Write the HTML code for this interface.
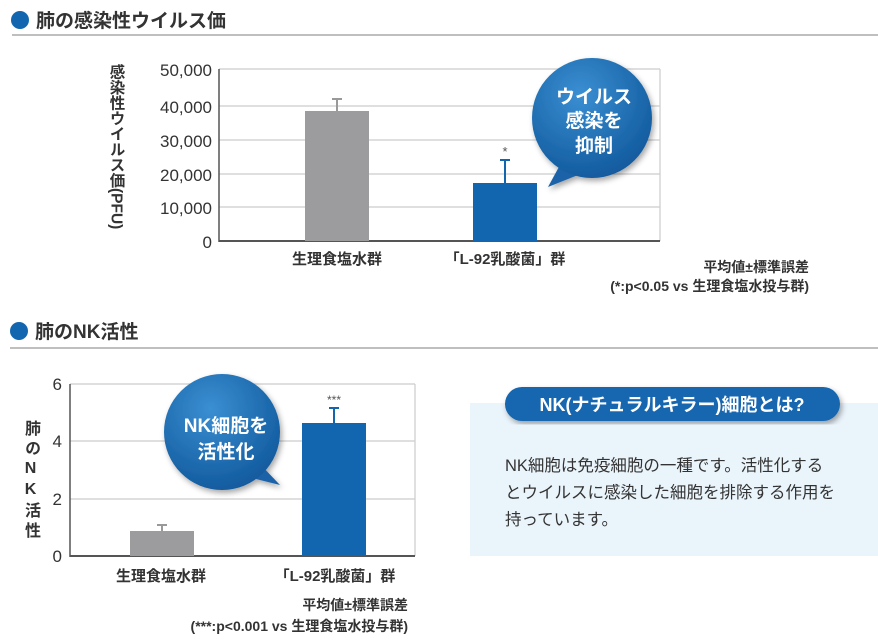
<!DOCTYPE html><html><head><meta charset="utf-8"><style>
body{margin:0;width:878px;height:640px;background:#fff;overflow:hidden;font-family:"Liberation Sans","Noto Sans CJK JP",sans-serif;color:#222;position:relative}
.v{position:absolute;writing-mode:vertical-rl;font-weight:bold;color:#333;line-height:1}
</style></head><body>
<svg width="878" height="640" xmlns="http://www.w3.org/2000/svg" font-family="Liberation Sans, Noto Sans CJK JP, sans-serif" style="position:absolute;left:0;top:0">
<defs>
<radialGradient id="bg" cx="0.4" cy="0.3" r="0.8"><stop offset="0" stop-color="#3a8fd2"/><stop offset="1" stop-color="#0d5498"/></radialGradient>
<filter id="sh"><feDropShadow dx="2" dy="3" stdDeviation="3" flood-opacity="0.35"/></filter>
</defs>
<circle cx="20" cy="20" r="9" fill="#1266b0"/>
<text x="36" y="27" font-size="19" font-weight="bold" fill="#333">肺の感染性ウイルス価</text>
<line x1="12" y1="35" x2="878" y2="35" stroke="#aaa" stroke-width="1.5"/>
<g stroke="#ccc" stroke-width="1.2">
<line x1="219" y1="69" x2="660" y2="69"/><line x1="219" y1="106" x2="660" y2="106"/><line x1="219" y1="140" x2="660" y2="140"/><line x1="219" y1="174" x2="660" y2="174"/><line x1="219" y1="207" x2="660" y2="207"/><line x1="660" y1="69" x2="660" y2="241"/>
</g>
<line x1="219" y1="69" x2="219" y2="242" stroke="#555" stroke-width="1.5"/>
<line x1="219" y1="241" x2="660" y2="241" stroke="#555" stroke-width="2"/>
<g font-size="17" fill="#333" text-anchor="end">
<text x="212" y="76">50,000</text><text x="212" y="113">40,000</text><text x="212" y="147">30,000</text><text x="212" y="181">20,000</text><text x="212" y="214">10,000</text><text x="212" y="248">0</text>
</g>
<line x1="337" y1="99" x2="337" y2="111" stroke="#999" stroke-width="2"/><line x1="332" y1="99" x2="342" y2="99" stroke="#999" stroke-width="2"/>
<rect x="305" y="111" width="64" height="130" fill="#9c9c9e"/>
<line x1="505" y1="160" x2="505" y2="183" stroke="#1266b0" stroke-width="2"/><line x1="500" y1="160" x2="510" y2="160" stroke="#1266b0" stroke-width="2"/>
<rect x="473" y="183" width="64" height="58" fill="#1266b0"/>
<text x="505" y="156" font-size="13" fill="#555" text-anchor="middle">*</text>
<g font-size="15" font-weight="bold" fill="#333" text-anchor="middle">
<text x="337" y="264">生理食塩水群</text><text x="505" y="264">「L-92乳酸菌」群</text>
</g>
<g font-size="14" font-weight="bold" fill="#333" text-anchor="end">
<text x="809" y="272">平均値±標準誤差</text><text x="809" y="291">(*:p&lt;0.05 vs 生理食塩水投与群)</text>
</g>
<g filter="url(#sh)"><path d="M560,165 L548,187 L578,175 Z" fill="#1b62a8"/><circle cx="592" cy="118" r="60" fill="url(#bg)"/></g>
<g font-size="19" font-weight="bold" fill="#fff" text-anchor="middle">
<text x="594" y="103">ウイルス</text><text x="594" y="127">感染を</text><text x="594" y="152">抑制</text>
</g>
<circle cx="19" cy="331" r="9" fill="#1266b0"/>
<text x="35" y="338" font-size="19" font-weight="bold" fill="#333">肺のNK活性</text>
<line x1="10" y1="348" x2="878" y2="348" stroke="#aaa" stroke-width="1.5"/>
<g stroke="#ccc" stroke-width="1.2">
<line x1="70" y1="384" x2="415" y2="384"/><line x1="70" y1="441" x2="415" y2="441"/><line x1="70" y1="499" x2="415" y2="499"/><line x1="415" y1="384" x2="415" y2="556"/>
</g>
<line x1="70" y1="384" x2="70" y2="557" stroke="#555" stroke-width="1.5"/>
<line x1="70" y1="556" x2="415" y2="556" stroke="#555" stroke-width="2"/>
<g font-size="17" fill="#333" text-anchor="end">
<text x="62" y="390">6</text><text x="62" y="447">4</text><text x="62" y="505">2</text><text x="62" y="562">0</text>
</g>
<line x1="162" y1="525" x2="162" y2="531" stroke="#999" stroke-width="2"/><line x1="157" y1="525" x2="167" y2="525" stroke="#999" stroke-width="2"/>
<rect x="130" y="531" width="64" height="25" fill="#9c9c9e"/>
<line x1="334" y1="408" x2="334" y2="423" stroke="#1266b0" stroke-width="2"/><line x1="329" y1="408" x2="339" y2="408" stroke="#1266b0" stroke-width="2"/>
<rect x="302" y="423" width="64" height="133" fill="#1266b0"/>
<text x="334" y="404" font-size="12" fill="#555" text-anchor="middle">***</text>
<g font-size="15" font-weight="bold" fill="#333" text-anchor="middle">
<text x="161" y="581">生理食塩水群</text><text x="335" y="581">「L-92乳酸菌」群</text>
</g>
<g font-size="14" font-weight="bold" fill="#333" text-anchor="end">
<text x="408" y="610">平均値±標準誤差</text><text x="408" y="631">(***:p&lt;0.001 vs 生理食塩水投与群)</text>
</g>
<g filter="url(#sh)"><path d="M258,462 L280,485 L252,478 Z" fill="#1b62a8"/><circle cx="222" cy="432" r="58" fill="url(#bg)"/></g>
<g font-size="19" font-weight="bold" fill="#fff" text-anchor="middle">
<text x="226" y="432">NK細胞を</text><text x="226" y="458">活性化</text>
</g>
<rect x="470" y="403" width="408" height="153" fill="#eaf4fb"/>
<rect x="505" y="387" width="335" height="34" rx="17" fill="#1266b0" filter="url(#sh)"/>
<text x="672" y="411" font-size="18" font-weight="bold" fill="#fff" text-anchor="middle">NK(ナチュラルキラー)細胞とは?</text>
<g font-size="16.5" fill="#333">
<text x="505" y="471">NK細胞は免疫細胞の一種です。活性化する</text>
<text x="505" y="498">とウイルスに感染した細胞を排除する作用を</text>
<text x="505" y="525">持っています。</text>
</g>
</svg>
<div class="v" style="left:108px;top:64px;font-size:15.5px">感染性ウイルス価(PFU)</div>
<div class="v" style="left:22px;top:420px;font-size:16px;text-orientation:upright;letter-spacing:4px">肺のNK活性</div>
</body></html>
